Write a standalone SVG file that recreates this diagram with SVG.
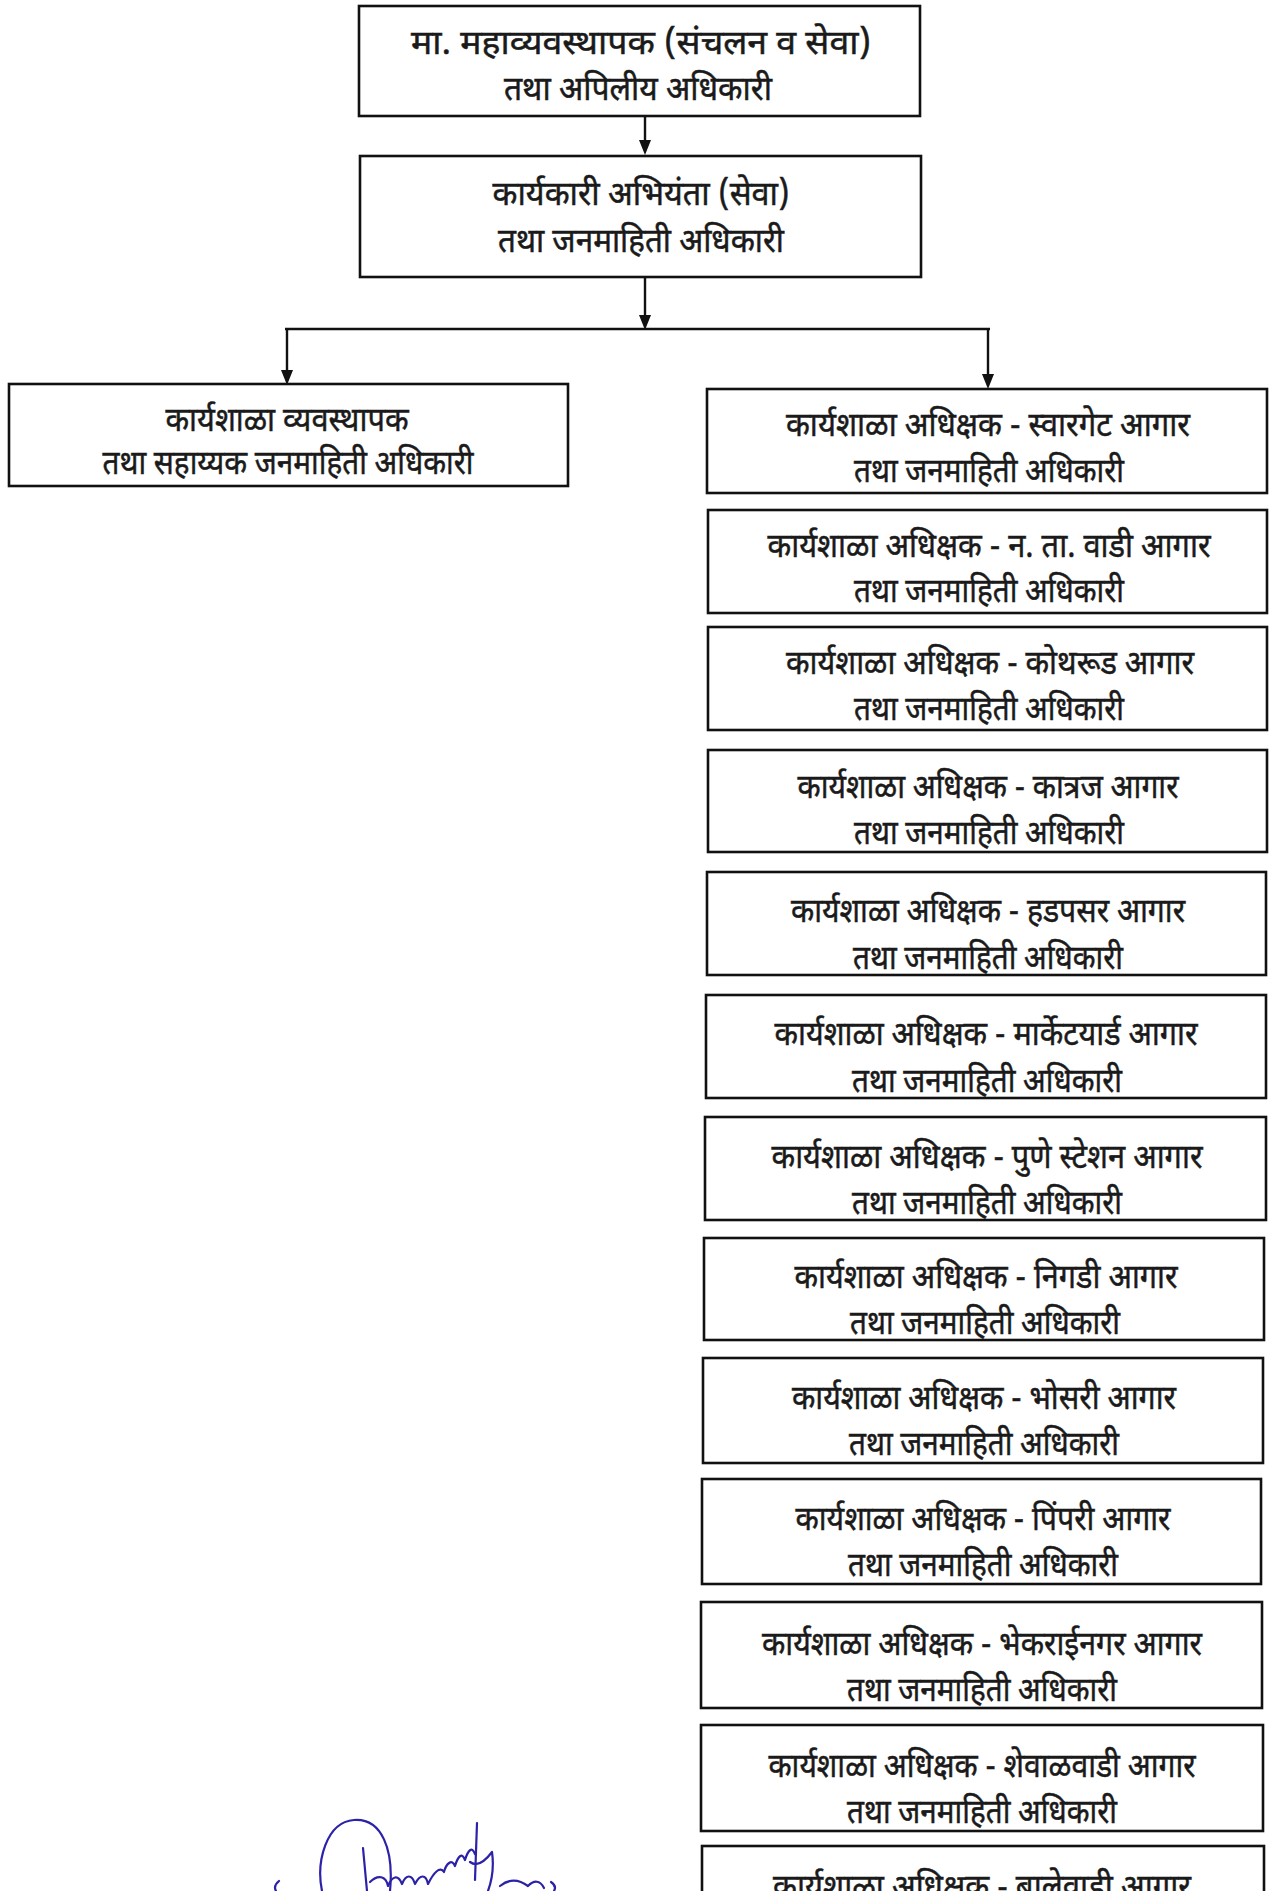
<svg xmlns="http://www.w3.org/2000/svg" width="1271" height="1891" viewBox="0 0 1271 1891">
<defs>
<style>
.box{fill:#ffffff;stroke:#111111;stroke-width:2.6}
.t{font-family:"Noto Sans Devanagari","Noto Sans","Lohit Devanagari",sans-serif;font-size:33px;fill:#1a1a1a;stroke:#1a1a1a;stroke-width:0.5;text-anchor:middle}
.c{fill:none;stroke:#111111;stroke-width:2.4}
.sig{fill:none;stroke:#2b22a8;stroke-width:2.2;stroke-linecap:round;stroke-linejoin:round}
</style>
</defs>
<rect width="1271" height="1891" fill="#ffffff"/>

<g id="connectors">
<line class="c" x1="645" y1="116" x2="645" y2="140" />
<path d="M639,140 L651,140 L645,155 Z" fill="#111"/>
<line class="c" x1="645" y1="278" x2="645" y2="316" />
<path d="M639,315 L651,315 L645,330 Z" fill="#111"/>
<line class="c" x1="285" y1="329" x2="990" y2="329" />
<line class="c" x1="287" y1="329" x2="287" y2="372" />
<path d="M281,370 L293,370 L287,385 Z" fill="#111"/>
<line class="c" x1="988" y1="329" x2="988" y2="376" />
<path d="M982,374 L994,374 L988,389 Z" fill="#111"/>
</g>

<g id="n-gm">
<rect class="box" x="359" y="6" width="561" height="110"/>
<text class="t" x="641" y="54" textLength="460" lengthAdjust="spacingAndGlyphs">मा. महाव्यवस्थापक (संचलन व सेवा)</text>
<text class="t" x="638" y="100" textLength="268" lengthAdjust="spacingAndGlyphs">तथा अपिलीय अधिकारी</text>
</g>

<g id="n-ee">
<rect class="box" x="360" y="156" width="561" height="121"/>
<text class="t" x="641" y="205" textLength="297" lengthAdjust="spacingAndGlyphs">कार्यकारी अभियंता (सेवा)</text>
<text class="t" x="641" y="252" textLength="286" lengthAdjust="spacingAndGlyphs">तथा जनमाहिती अधिकारी</text>
</g>

<g id="n-wm">
<rect class="box" x="9" y="384" width="559" height="102"/>
<text class="t" x="287" y="431" textLength="243" lengthAdjust="spacingAndGlyphs">कार्यशाळा व्यवस्थापक</text>
<text class="t" x="288" y="474" textLength="371" lengthAdjust="spacingAndGlyphs">तथा सहाय्यक जनमाहिती अधिकारी</text>
</g>

<g id="n-r1">
<rect class="box" x="707" y="389" width="560" height="104"/>
<text class="t" x="988" y="436" textLength="404" lengthAdjust="spacingAndGlyphs">कार्यशाळा अधिक्षक - स्वारगेट आगार</text>
<text class="t" x="989" y="482" textLength="270" lengthAdjust="spacingAndGlyphs">तथा जनमाहिती अधिकारी</text>
</g>

<g id="n-r2">
<rect class="box" x="708" y="510" width="559" height="103"/>
<text class="t" x="989" y="557" textLength="443" lengthAdjust="spacingAndGlyphs">कार्यशाळा अधिक्षक - न. ता. वाडी आगार</text>
<text class="t" x="989" y="602" textLength="270" lengthAdjust="spacingAndGlyphs">तथा जनमाहिती अधिकारी</text>
</g>

<g id="n-r3">
<rect class="box" x="708" y="627" width="559" height="103"/>
<text class="t" x="990" y="674" textLength="408" lengthAdjust="spacingAndGlyphs">कार्यशाळा अधिक्षक - कोथरूड आगार</text>
<text class="t" x="989" y="720" textLength="270" lengthAdjust="spacingAndGlyphs">तथा जनमाहिती अधिकारी</text>
</g>

<g id="n-r4">
<rect class="box" x="708" y="750" width="559" height="102"/>
<text class="t" x="988" y="798" textLength="381" lengthAdjust="spacingAndGlyphs">कार्यशाळा अधिक्षक - कात्रज आगार</text>
<text class="t" x="989" y="844" textLength="270" lengthAdjust="spacingAndGlyphs">तथा जनमाहिती अधिकारी</text>
</g>

<g id="n-r5">
<rect class="box" x="707" y="872" width="559" height="103"/>
<text class="t" x="988" y="922" textLength="394" lengthAdjust="spacingAndGlyphs">कार्यशाळा अधिक्षक - हडपसर आगार</text>
<text class="t" x="988" y="969" textLength="270" lengthAdjust="spacingAndGlyphs">तथा जनमाहिती अधिकारी</text>
</g>

<g id="n-r6">
<rect class="box" x="706" y="995" width="560" height="103"/>
<text class="t" x="986" y="1045" textLength="423" lengthAdjust="spacingAndGlyphs">कार्यशाळा अधिक्षक - मार्केटयार्ड आगार</text>
<text class="t" x="987" y="1092" textLength="270" lengthAdjust="spacingAndGlyphs">तथा जनमाहिती अधिकारी</text>
</g>

<g id="n-r7">
<rect class="box" x="705" y="1117" width="561" height="103"/>
<text class="t" x="987" y="1168" textLength="431" lengthAdjust="spacingAndGlyphs">कार्यशाळा अधिक्षक - पुणे स्टेशन आगार</text>
<text class="t" x="987" y="1214" textLength="270" lengthAdjust="spacingAndGlyphs">तथा जनमाहिती अधिकारी</text>
</g>

<g id="n-r8">
<rect class="box" x="704" y="1238" width="560" height="102"/>
<text class="t" x="986" y="1288" textLength="383" lengthAdjust="spacingAndGlyphs">कार्यशाळा अधिक्षक - निगडी आगार</text>
<text class="t" x="985" y="1334" textLength="270" lengthAdjust="spacingAndGlyphs">तथा जनमाहिती अधिकारी</text>
</g>

<g id="n-r9">
<rect class="box" x="703" y="1358" width="560" height="105"/>
<text class="t" x="984" y="1409" textLength="384" lengthAdjust="spacingAndGlyphs">कार्यशाळा अधिक्षक - भोसरी आगार</text>
<text class="t" x="984" y="1455" textLength="270" lengthAdjust="spacingAndGlyphs">तथा जनमाहिती अधिकारी</text>
</g>

<g id="n-r10">
<rect class="box" x="702" y="1479" width="559" height="105"/>
<text class="t" x="983" y="1530" textLength="375" lengthAdjust="spacingAndGlyphs">कार्यशाळा अधिक्षक - पिंपरी आगार</text>
<text class="t" x="983" y="1576" textLength="270" lengthAdjust="spacingAndGlyphs">तथा जनमाहिती अधिकारी</text>
</g>

<g id="n-r11">
<rect class="box" x="701" y="1602" width="561" height="106"/>
<text class="t" x="982" y="1655" textLength="440" lengthAdjust="spacingAndGlyphs">कार्यशाळा अधिक्षक - भेकराईनगर आगार</text>
<text class="t" x="982" y="1701" textLength="270" lengthAdjust="spacingAndGlyphs">तथा जनमाहिती अधिकारी</text>
</g>

<g id="n-r12">
<rect class="box" x="701" y="1725" width="562" height="106"/>
<text class="t" x="982" y="1777" textLength="427" lengthAdjust="spacingAndGlyphs">कार्यशाळा अधिक्षक - शेवाळवाडी आगार</text>
<text class="t" x="982" y="1823" textLength="270" lengthAdjust="spacingAndGlyphs">तथा जनमाहिती अधिकारी</text>
</g>

<g id="n-r13">
<rect class="box" x="702" y="1846" width="562" height="60"/>
<text class="t" x="982" y="1898" textLength="418" lengthAdjust="spacingAndGlyphs">कार्यशाळा अधिक्षक - बालेवाडी आगार</text>
</g>

<g id="signature">
<path class="sig" d="M279,1881 Q273,1886 276,1891"/>
<path class="sig" d="M322,1891 C316,1862 326,1822 354,1820 C382,1818 394,1850 390,1891"/>
<path class="sig" d="M363,1848 L367,1891"/>
<path class="sig" d="M370,1882 C378,1874 386,1876 388,1886 C392,1876 398,1874 402,1884 C406,1874 412,1874 415,1884 C420,1874 426,1874 428,1884 C434,1872 440,1866 444,1872 C446,1864 452,1858 455,1866 C458,1856 462,1852 465,1860 C468,1850 472,1846 475,1854"/>
<path class="sig" d="M477,1823 L475,1880"/>
<path class="sig" d="M470,1862 C478,1868 486,1860 492,1852 C494,1866 492,1880 488,1891"/>
<path class="sig" d="M500,1886 C510,1878 520,1880 528,1886 C534,1880 540,1880 544,1888"/>
<path class="sig" d="M551,1882 Q557,1886 554,1891"/>
</g>
</svg>
